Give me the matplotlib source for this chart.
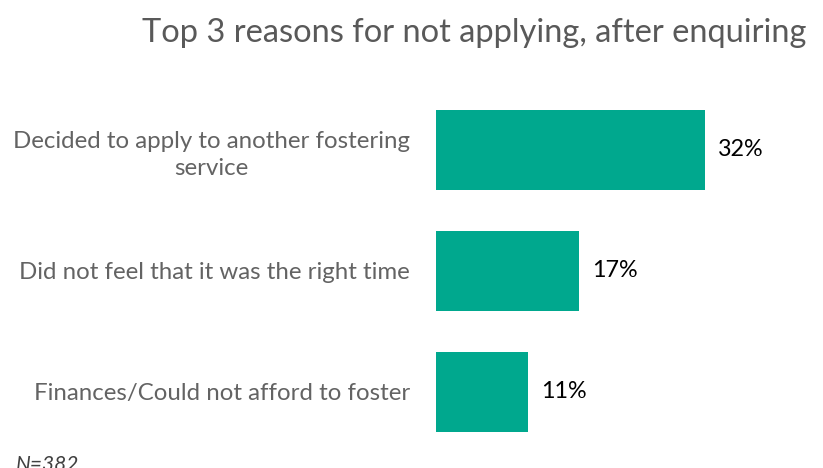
import numpy as np
import matplotlib.pyplot as plt

# reasons given for not applying, share of respondents (%)
reasons = ["Decided to apply to another fostering\nservice",
           "Did not feel that it was the right time",
           "Finances/Could not afford to foster"]
shares = [32, 17, 11]
sample_note = "N=382"

plt.rcParams['font.family'] = ['Lato', 'DejaVu Sans']

fig = plt.figure(figsize=(8.23, 4.68), dpi=100)
ax = fig.add_axes([436 / 823, 1 - 452.5 / 468, 387 / 823, 363.5 / 468])

y = np.arange(len(reasons))
ax.barh(y, shares, height=0.66, color='#00A88E')
ax.set_xlim(0, 387 / 8.4)
ax.set_ylim(len(reasons) - 0.5, -0.5)

for yi, v in zip(y, shares):
    ax.text(v + 1.55, yi, f"{v}%", va='center', ha='left',
            fontsize=16.8, color='black')

ax.set_yticks(y)
ax.set_yticklabels(reasons, fontsize=17.3, color='#636363',
                   ha='right', multialignment='center', linespacing=1.38)
ax.tick_params(axis='y', length=0, pad=18.7)
ax.tick_params(axis='x', bottom=False, labelbottom=False)
for s in ax.spines.values():
    s.set_visible(False)

fig.text(474 / 823, 1 - 33 / 468, "Top 3 reasons for not applying, after enquiring",
         ha='center', va='center', fontsize=23.5, color='#595959')
fig.text(16 / 823, 1 - 455 / 468, sample_note, ha='left', va='top',
         fontsize=15, style='italic', color='#404040')

fig.savefig('out.png', dpi=100)
